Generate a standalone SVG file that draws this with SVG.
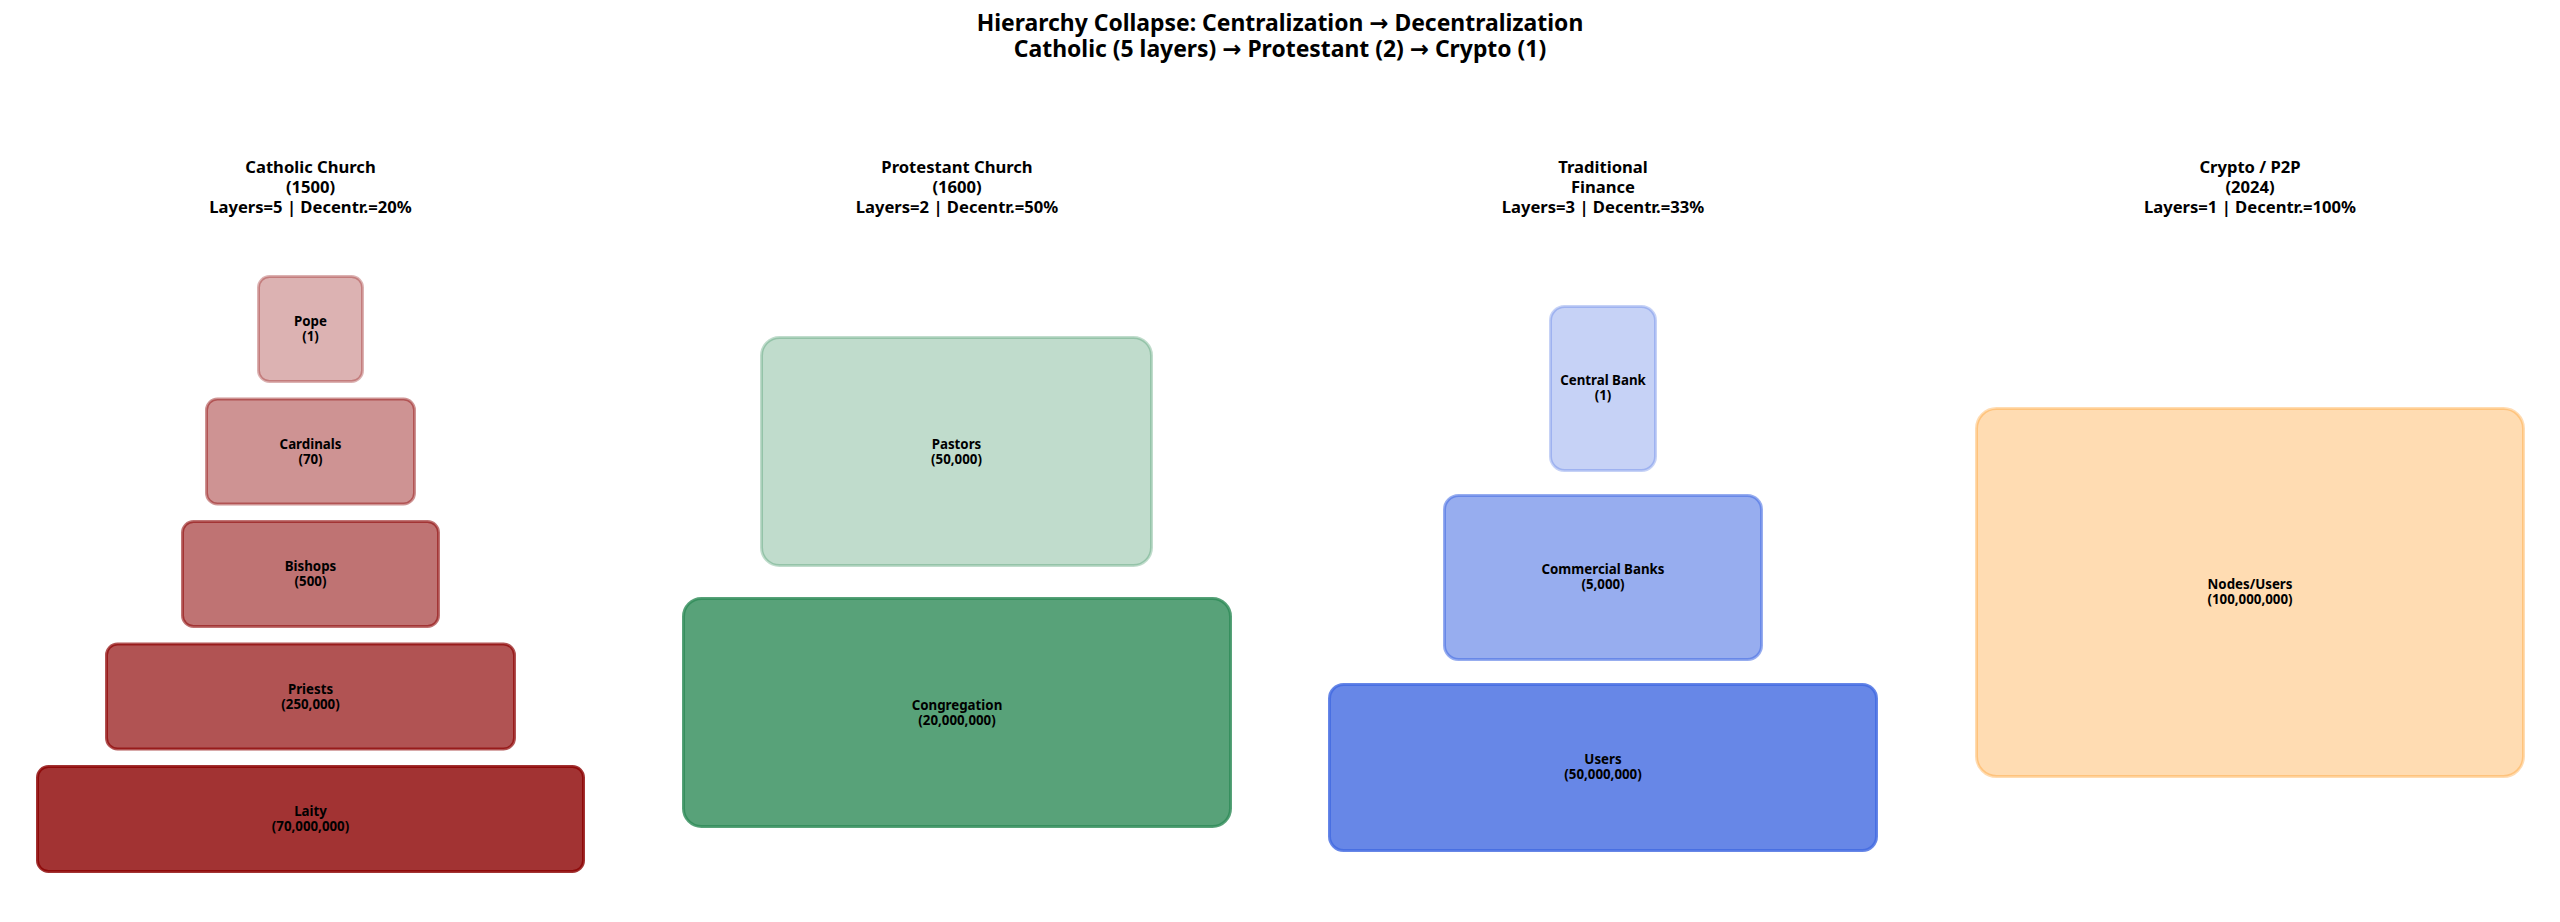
<svg xmlns="http://www.w3.org/2000/svg" width="2560" height="922" viewBox="0 0 2560 922">
<style>
text{font-family:"Noto Sans","Open Sans","DejaVu Sans",sans-serif;font-weight:700;fill:#000;text-anchor:middle}
.sup{font-size:22.9px}
.ttl{font-size:16.6px}
.lbl{font-size:13.3px}
rect{stroke-width:3}
.red{fill:#8B0000;stroke:#8B0000}
.grn{fill:#2E8B57;stroke:#2E8B57}
.blu{fill:#4169E1;stroke:#4169E1}
.org{fill:#FF8C00;stroke:#FF8C00}
.a1{fill-opacity:0.3;stroke-opacity:0.3}
.a2{fill-opacity:0.425;stroke-opacity:0.425}
.a3{fill-opacity:0.55;stroke-opacity:0.55}
.a4{fill-opacity:0.675;stroke-opacity:0.675}
.a5{fill-opacity:0.8;stroke-opacity:0.8}
</style>
<rect x="0" y="0" width="2560" height="922" fill="#fff" stroke="none"/>
<g id="title">
<text class="sup" x="1280" y="31">Hierarchy Collapse: Centralization → Decentralization</text>
<text class="sup" x="1280" y="57">Catholic (5 layers) → Protestant (2) → Crypto (1)</text>
</g>
<g id="col-catholic">
<text class="ttl" x="310.5" y="173">Catholic Church</text>
<text class="ttl" x="310.5" y="193">(1500)</text>
<text class="ttl" x="310.5" y="213">Layers=5 | Decentr.=20%</text>
<g id="pope"><rect class="red a1" x="258.5" y="276.5" width="104" height="105" rx="11"/><text class="lbl" x="310.5" y="326">Pope</text><text class="lbl" x="310.5" y="341">(1)</text></g>
<g id="cardinals"><rect class="red a2" x="206.5" y="399" width="208" height="105" rx="11"/><text class="lbl" x="310.5" y="448.5">Cardinals</text><text class="lbl" x="310.5" y="463.5">(70)</text></g>
<g id="bishops"><rect class="red a3" x="182.5" y="521.5" width="256" height="105" rx="11"/><text class="lbl" x="310.5" y="571">Bishops</text><text class="lbl" x="310.5" y="586">(500)</text></g>
<g id="priests"><rect class="red a4" x="106.5" y="644" width="408" height="105" rx="11"/><text class="lbl" x="310.5" y="693.5">Priests</text><text class="lbl" x="310.5" y="708.5">(250,000)</text></g>
<g id="laity"><rect class="red a5" x="37.5" y="766.5" width="546" height="105" rx="11"/><text class="lbl" x="310.5" y="816">Laity</text><text class="lbl" x="310.5" y="831">(70,000,000)</text></g>
</g>
<g id="col-protestant">
<text class="ttl" x="957" y="173">Protestant Church</text>
<text class="ttl" x="957" y="193">(1600)</text>
<text class="ttl" x="957" y="213">Layers=2 | Decentr.=50%</text>
<g id="pastors"><rect class="grn a1" x="761.5" y="337.5" width="390" height="228" rx="18"/><text class="lbl" x="956.5" y="448.5">Pastors</text><text class="lbl" x="956.5" y="463.5">(50,000)</text></g>
<g id="congregation"><rect class="grn a5" x="683.5" y="598.5" width="547" height="228" rx="18"/><text class="lbl" x="957" y="709.5">Congregation</text><text class="lbl" x="957" y="724.5">(20,000,000)</text></g>
</g>
<g id="col-finance">
<text class="ttl" x="1603" y="173">Traditional</text>
<text class="ttl" x="1603" y="193">Finance</text>
<text class="ttl" x="1603" y="213">Layers=3 | Decentr.=33%</text>
<g id="central-bank"><rect class="blu a1" x="1550.5" y="306.5" width="105" height="164" rx="14"/><text class="lbl" x="1603" y="385">Central Bank</text><text class="lbl" x="1603" y="400">(1)</text></g>
<g id="commercial-banks"><rect class="blu a3" x="1444.5" y="495.5" width="317" height="164" rx="14"/><text class="lbl" x="1603" y="574">Commercial Banks</text><text class="lbl" x="1603" y="589">(5,000)</text></g>
<g id="users"><rect class="blu a5" x="1329.5" y="684.5" width="547" height="166" rx="14"/><text class="lbl" x="1603" y="764">Users</text><text class="lbl" x="1603" y="779">(50,000,000)</text></g>
</g>
<g id="col-crypto">
<text class="ttl" x="2250" y="173">Crypto / P2P</text>
<text class="ttl" x="2250" y="193">(2024)</text>
<text class="ttl" x="2250" y="213">Layers=1 | Decentr.=100%</text>
<g id="nodes-users"><rect class="org a1" x="1976.5" y="408.5" width="547" height="368" rx="20"/><text class="lbl" x="2250" y="589">Nodes/Users</text><text class="lbl" x="2250" y="604">(100,000,000)</text></g>
</g>
<g id="connectors"/>
</svg>
